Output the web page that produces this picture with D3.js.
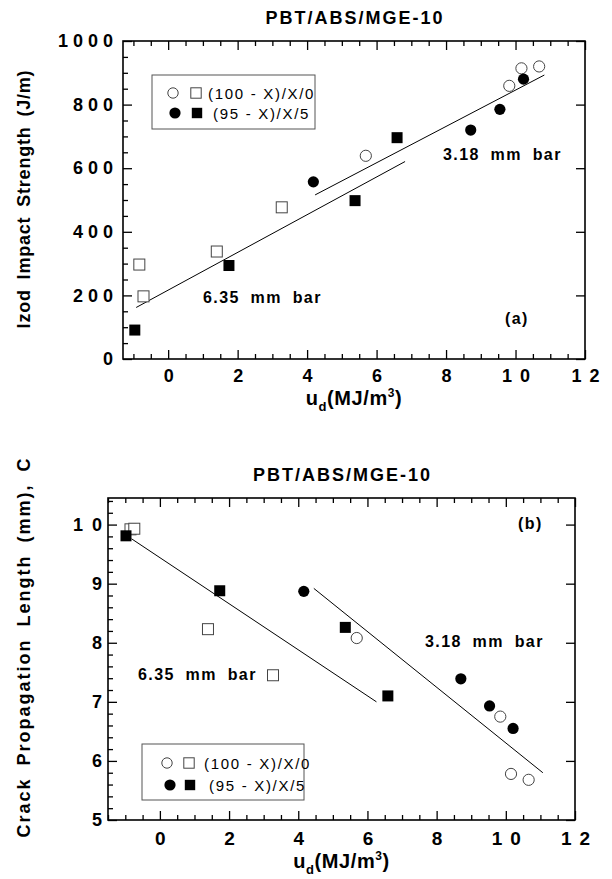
<!DOCTYPE html>
<html>
<head>
<meta charset="utf-8">
<script src="https://cdn.jsdelivr.net/npm/d3@7"></script>
<style>
  body { margin: 0; background: #fff; }
  svg { display: block; }
  text { font-family: "Liberation Sans", Arial, Helvetica, sans-serif; }
</style>
</head>
<body>
<svg id="fig" width="612" height="879"></svg>
<script>
// ---- shared axis values ----
const energyTicks = [0, 2, 4, 6, 8, 10, 12];
const izodTicks = [0, 200, 400, 600, 800, 1000];
const crackTicks = [5, 6, 7, 8, 9, 10];
const legendLabels = ["(100 - X)/X/0", "(95 - X)/X/5"];
const panelTitle = "PBT/ABS/MGE-10";

// ---- (a) Izod impact strength (J/m) vs u_d ----
const izodOpenCircleX = [5.69, 9.82, 10.17, 10.68];
const izodOpenCircleY = [639, 859, 914, 920];
const izodOpenSquareX = [-0.83, -0.71, 1.40, 3.27];
const izodOpenSquareY = [297, 197, 338, 477];
const izodFilledCircleX = [4.18, 8.71, 9.55, 10.23];
const izodFilledCircleY = [557, 720, 785, 880];
const izodFilledSquareX = [-0.96, 1.75, 5.38, 6.59];
const izodFilledSquareY = [91, 294, 498, 696];
const izodFit635X = [-0.92, 6.82];
const izodFit635Y = [162, 621];
const izodFit318X = [4.23, 10.83];
const izodFit318Y = [516, 893];

// ---- (b) crack propagation length (mm) vs u_d ----
const crackOpenCircleX = [5.69, 9.84, 10.15, 10.66];
const crackOpenCircleY = [8.08, 6.75, 5.78, 5.68];
const crackOpenSquareX = [-0.85, -0.74, 1.39, 3.27];
const crackOpenSquareY = [9.92, 9.93, 8.23, 7.45];
const crackFilledCircleX = [4.16, 8.70, 9.53, 10.21];
const crackFilledCircleY = [8.87, 7.39, 6.93, 6.55];
const crackFilledSquareX = [-0.98, 1.73, 5.36, 6.59];
const crackFilledSquareY = [9.81, 8.88, 8.26, 7.10];
const crackFit635X = [-0.82, 6.26];
const crackFit635Y = [9.76, 7.00];
const crackFit318X = [4.45, 11.07];
const crackFit318Y = [8.92, 5.80];

const zip = (xs, ys) => xs.map((v, i) => [v, ys[i]]);

const svg = d3.select("#fig");
svg.append("rect").attr("width", 612).attr("height", 879).attr("fill", "#fff");

const R = 5.6;     // marker radius
const S = 11;      // square marker side

function drawPanel(cfg) {
  const g = svg.append("g");
  const x = d3.scaleLinear().domain(cfg.xDomain).range([cfg.left, cfg.right]);
  const y = d3.scaleLinear().domain(cfg.yDomain).range([cfg.bottom, cfg.top]);

  const xMinor = d3.range(Math.ceil(cfg.xDomain[0] * 2) / 2, cfg.xDomain[1] + 1e-9, 0.5)
    .filter(v => !energyTicks.includes(v));
  const yMinor = d3.range(cfg.yDomain[0], cfg.yDomain[1] + 1e-9, cfg.yMinorStep)
    .map(v => +v.toFixed(4))
    .filter(v => !cfg.yTicks.includes(v));

  const tickStyle = sel => {
    sel.select(".domain").remove();
    sel.selectAll(".tick line").attr("stroke", "#000").attr("stroke-width", 1.3);
  };

  // bottom axis: minor + labelled major ticks
  g.append("g").attr("transform", `translate(0,${cfg.bottom})`)
    .call(d3.axisBottom(x).tickValues(xMinor).tickSize(-5).tickFormat(""))
    .call(tickStyle);
  const xb = g.append("g").attr("transform", `translate(0,${cfg.bottom})`)
    .call(d3.axisBottom(x).tickValues(energyTicks).tickSize(-9).tickPadding(cfg.xPad).tickFormat(d3.format("d")))
    .call(tickStyle);
  xb.selectAll("text")
    .attr("fill", "#000")
    .attr("font-size", cfg.xFont).attr("font-weight", "bold")
    .style("letter-spacing", cfg.xLs + "px")
    .attr("dx", cfg.xLs / 2)
    .attr("font-family", "Liberation Sans, Arial, sans-serif");

  // top axis (mirrored ticks)
  g.append("g").attr("transform", `translate(0,${cfg.top})`)
    .call(d3.axisTop(x).tickValues(xMinor).tickSize(-5).tickFormat(""))
    .call(tickStyle);
  g.append("g").attr("transform", `translate(0,${cfg.top})`)
    .call(d3.axisTop(x).tickValues(energyTicks).tickSize(-9).tickFormat(""))
    .call(tickStyle);

  // left axis
  g.append("g").attr("transform", `translate(${cfg.left},0)`)
    .call(d3.axisLeft(y).tickValues(yMinor).tickSize(-5).tickFormat(""))
    .call(tickStyle);
  const yl = g.append("g").attr("transform", `translate(${cfg.left},0)`)
    .call(d3.axisLeft(y).tickValues(cfg.yTicks).tickSize(-9).tickPadding(cfg.yPad).tickFormat(d3.format("d")))
    .call(tickStyle);
  yl.selectAll("text")
    .attr("fill", "#000")
    .attr("font-size", 18).attr("font-weight", "bold")
    .style("letter-spacing", cfg.yLs + "px")
    .attr("dx", cfg.yLs)
    .attr("font-family", "Liberation Sans, Arial, sans-serif");

  // right axis (mirrored major ticks)
  g.append("g").attr("transform", `translate(${cfg.right},0)`)
    .call(d3.axisRight(y).tickValues(cfg.yTicks).tickSize(-9).tickFormat(""))
    .call(tickStyle);

  // frame
  g.append("rect")
    .attr("x", cfg.left).attr("y", cfg.top)
    .attr("width", cfg.right - cfg.left).attr("height", cfg.bottom - cfg.top)
    .attr("fill", "none").attr("stroke", "#000").attr("stroke-width", 1.6);

  // fit lines
  const line = d3.line().x(d => x(d[0])).y(d => y(d[1]));
  cfg.fits.forEach(f => {
    g.append("path").datum(f).attr("d", line)
      .attr("fill", "none").attr("stroke", "#000").attr("stroke-width", 1);
  });

  // markers
  const drawCircles = (pts, filled) => g.append("g").selectAll("circle").data(pts).join("circle")
    .attr("cx", d => x(d[0])).attr("cy", d => y(d[1])).attr("r", R)
    .attr("fill", filled ? "#000" : "#fff")
    .attr("stroke", filled ? "#000" : "#444").attr("stroke-width", filled ? 0 : 1);
  const drawSquares = (pts, filled) => g.append("g").selectAll("rect").data(pts).join("rect")
    .attr("x", d => x(d[0]) - S / 2).attr("y", d => y(d[1]) - S / 2)
    .attr("width", S).attr("height", S)
    .attr("fill", filled ? "#000" : "#fff")
    .attr("stroke", filled ? "#000" : "#444").attr("stroke-width", filled ? 0 : 1);
  drawSquares(cfg.openSquares, false);
  drawCircles(cfg.openCircles, false);
  drawSquares(cfg.filledSquares, true);
  drawCircles(cfg.filledCircles, true);

  // title
  svg.append("text")
    .attr("x", (cfg.left + cfg.right) / 2 + 1).attr("y", cfg.titleY)
    .attr("text-anchor", "middle")
    .attr("font-size", 18).attr("font-weight", "bold")
    .style("letter-spacing", "2px")
    .text(panelTitle);

  // y axis title
  svg.append("text")
    .attr("transform", `translate(${cfg.yTitleX},${cfg.yTitleY}) rotate(-90)`)
    .attr("text-anchor", "middle")
    .attr("font-size", 18).attr("font-weight", "bold")
    .style("letter-spacing", cfg.yTitleLs + "px").style("word-spacing", cfg.yTitleWs + "px")
    .text(cfg.yTitle);

  // x axis title: u_d(MJ/m^3)
  const xt = svg.append("text")
    .attr("x", (cfg.left + cfg.right) / 2).attr("y", cfg.xTitleY)
    .attr("text-anchor", "middle")
    .attr("font-size", 20).attr("font-weight", "bold")
    .style("letter-spacing", "0.6px");
  xt.append("tspan").text("u");
  xt.append("tspan").attr("font-size", 13).attr("dy", 6).text("d");
  xt.append("tspan").attr("dy", -6).text("(MJ/m");
  xt.append("tspan").attr("font-size", 12).attr("dy", -8).text("3");
  xt.append("tspan").attr("dy", 8).text(")");

  // annotations
  cfg.notes.forEach(n => {
    svg.append("text").attr("x", n.x).attr("y", n.y)
      .attr("font-size", 16).attr("font-weight", "bold")
      .style("letter-spacing", "1.4px").style("word-spacing", "5px")
      .text(n.text);
  });

  // legend
  const L = cfg.legend;
  svg.append("rect").attr("x", L.x).attr("y", L.y).attr("width", L.w).attr("height", L.h)
    .attr("fill", "#fff").attr("stroke", "#555").attr("stroke-width", 1);
  const rows = [
    { filled: false, cx: L.cx1, sx: L.sx1, ty: L.r1, tx: L.t1 },
    { filled: true, cx: L.cx2, sx: L.sx2, ty: L.r2, tx: L.t2 }
  ];
  rows.forEach((r, i) => {
    svg.append("circle").attr("cx", r.cx).attr("cy", r.ty - 6).attr("r", i ? 5.6 : 5.2)
      .attr("fill", r.filled ? "#000" : "#fff").attr("stroke", r.filled ? "none" : "#444");
    svg.append("rect").attr("x", r.sx - 5.2).attr("y", r.ty - 11.2).attr("width", 10.4).attr("height", 10.4)
      .attr("fill", r.filled ? "#000" : "#fff").attr("stroke", r.filled ? "none" : "#444");
    svg.append("text").attr("x", r.tx).attr("y", r.ty)
      .attr("font-size", 15).style("letter-spacing", "1.7px")
      .text(legendLabels[i]);
  });
}

drawPanel({
  left: 123, right: 585, top: 41, bottom: 359,
  xDomain: [-1.3, 12], yDomain: [0, 1000],
  yTicks: izodTicks, yMinorStep: 50,
  xPad: 10, xLs: 8, xFont: 18, yPad: 10, yLs: 5,
  titleY: 24,
  yTitle: "Izod Impact Strength (J/m)", yTitleX: 30, yTitleY: 199,
  yTitleLs: 0.8, yTitleWs: 4,
  xTitleY: 405,
  fits: [zip(izodFit635X, izodFit635Y), zip(izodFit318X, izodFit318Y)],
  openCircles: zip(izodOpenCircleX, izodOpenCircleY),
  openSquares: zip(izodOpenSquareX, izodOpenSquareY),
  filledCircles: zip(izodFilledCircleX, izodFilledCircleY),
  filledSquares: zip(izodFilledSquareX, izodFilledSquareY),
  notes: [
    { text: "3.18 mm bar", x: 443, y: 160 },
    { text: "6.35 mm bar", x: 203, y: 303 },
    { text: "(a)", x: 505, y: 324 }
  ],
  legend: { x: 152, y: 75, w: 163, h: 54,
            cx1: 173, sx1: 196, r1: 99, t1: 208,
            cx2: 175, sx2: 197, r2: 119, t2: 213 }
});

drawPanel({
  left: 108, right: 575, top: 498, bottom: 820,
  xDomain: [-1.5, 12], yDomain: [5, 10.45],
  yTicks: crackTicks, yMinorStep: 0.2,
  xPad: 12, xLs: 8, xFont: 19, yPad: 6, yLs: 9,
  titleY: 481,
  yTitle: "Crack Propagation Length (mm), C", yTitleX: 30, yTitleY: 647,
  yTitleLs: 2, yTitleWs: 5,
  xTitleY: 868,
  fits: [zip(crackFit635X, crackFit635Y), zip(crackFit318X, crackFit318Y)],
  openCircles: zip(crackOpenCircleX, crackOpenCircleY),
  openSquares: zip(crackOpenSquareX, crackOpenSquareY),
  filledCircles: zip(crackFilledCircleX, crackFilledCircleY),
  filledSquares: zip(crackFilledSquareX, crackFilledSquareY),
  notes: [
    { text: "(b)", x: 518, y: 529 },
    { text: "3.18 mm bar", x: 425, y: 647 },
    { text: "6.35 mm bar", x: 138, y: 680 }
  ],
  legend: { x: 142, y: 744, w: 162, h: 56,
            cx1: 167, sx1: 189, r1: 769, t1: 204,
            cx2: 170, sx2: 190, r2: 791, t2: 209 }
});
</script>
</body>
</html>
